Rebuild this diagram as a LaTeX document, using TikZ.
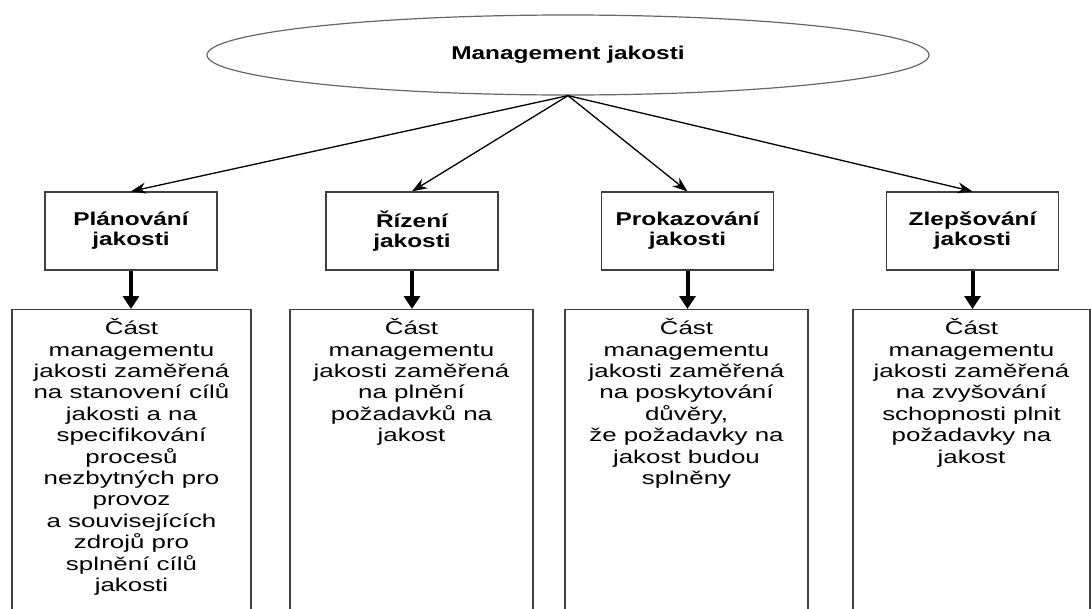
\documentclass[tikz,border=0pt]{standalone}
\usepackage{fontspec}
\setmainfont[FakeStretch=1.4]{Liberation Sans}
\newfontfamily\headfont[FakeStretch=1.32]{Liberation Sans}
\usetikzlibrary{shapes.geometric,positioning,arrows.meta}

\tikzset{
  head/.style={draw=black!75, line width=1.3pt, fill=white, minimum width=172pt, minimum height=78pt,
    align=center, font=\headfont\bfseries\fontsize{18.5}{20}\selectfont},
  frame/.style={draw=black!75, line width=1.3pt, minimum height=340pt, anchor=north},
  desc/.style={align=center, anchor=north, font=\fontsize{18.5}{21.4}\selectfont},
  thin arrow/.style={-{Stealth[length=15pt,width=11pt]}, line width=1.3pt},
  thick arrow/.style={-{Triangle[length=13pt,width=16pt]}, line width=4pt}
}

\begin{document}
\begin{tikzpicture}[x=1pt,y=-1pt]
\useasboundingbox (0,0) rectangle (1091,608);
\clip (0,0) rectangle (1091,608);

\node[ellipse, draw=black!60, line width=1.2pt, minimum width=722pt, minimum height=80pt, inner sep=0pt,
  font=\headfont\bfseries\fontsize{18.5}{20}\selectfont] (mgmt) at (568,55) {Management jakosti};

% second level
\node[head] (plan) at (131,231) {Plánování\\jakosti};
\node[head] (rizeni) at (412,231) {Řízení\\jakosti};
\node[head] (prokaz) at (687.5,231) {Prokazování\\jakosti};
\node[head] (zlep) at (972.5,231) {Zlepšování\\jakosti};

\draw[thin arrow] (mgmt.south) -- (plan.north);
\draw[thin arrow] (mgmt.south) -- (rizeni.north);
\draw[thin arrow] (mgmt.south) -- (prokaz.north);
\draw[thin arrow] (mgmt.south) -- (zlep.north);

% descriptions
\node[frame, minimum width=239pt] (planD) at (131.5,309) {};
\node[frame, minimum width=243pt] (rizeniD) at (411.5,309) {};
\node[frame, minimum width=243pt] (prokazD) at (686.5,309) {};
\node[frame, minimum width=237pt] (zlepD) at (971.5,309) {};

\node[desc, below=6pt of planD.north] (planT) {Část\\managementu\\jakosti zaměřená\\na stanovení cílů\\jakosti a na\\specifikování\\procesů\\nezbytných pro\\provoz\\a souvisejících\\zdrojů pro\\splnění cílů\\jakosti};
\node[desc, below=6pt of rizeniD.north] (rizeniT) {Část\\managementu\\jakosti zaměřená\\na plnění\\požadavků na\\jakost};
\node[desc, below=6pt of prokazD.north] (prokazT) {Část\\managementu\\jakosti zaměřená\\na poskytování\\důvěry,\\že požadavky na\\jakost budou\\splněny};
\node[desc, below=6pt of zlepD.north] (zlepT) {Část\\managementu\\jakosti zaměřená\\na zvyšování\\schopnosti plnit\\požadavky na\\jakost};

\draw[thick arrow] (plan.south) -- (plan.south |- planD.north);
\draw[thick arrow] (rizeni.south) -- (rizeni.south |- rizeniD.north);
\draw[thick arrow] (prokaz.south) -- (prokaz.south |- prokazD.north);
\draw[thick arrow] (zlep.south) -- (zlep.south |- zlepD.north);
\end{tikzpicture}
\end{document}
